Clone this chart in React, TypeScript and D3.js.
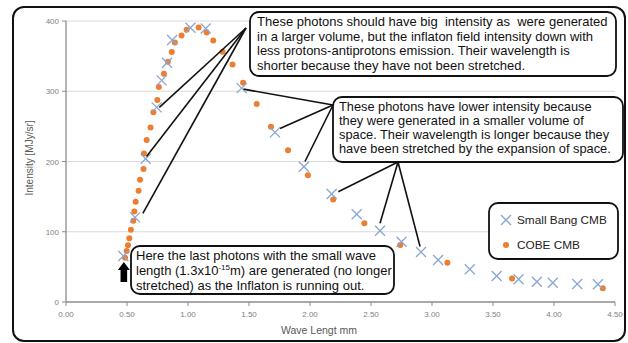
import React from 'react';
import * as d3 from 'd3';

// ---- data ----
const smallBangX = [0.47, 0.566, 0.653, 0.743, 0.784, 0.828, 0.87, 1.02, 1.145, 1.44, 1.713, 1.95, 2.178, 2.383, 2.574, 2.75, 2.91, 3.05, 3.31, 3.53, 3.71, 3.86, 3.99, 4.19, 4.36];
const smallBangY = [65.5, 120.5, 204, 277, 315.5, 340.6, 373, 390.5, 389.3, 304.5, 241.5, 192.6, 153.7, 124.8, 101.5, 85.8, 71.2, 59.8, 46.5, 37, 32.3, 28.9, 27.5, 25.6, 25.2];

const cobeX = [0.484, 0.497, 0.508, 0.519, 0.532, 0.552, 0.56, 0.571, 0.595, 0.607, 0.635, 0.639, 0.661, 0.693, 0.716, 0.749, 0.761, 0.803, 0.835, 0.867, 0.892, 0.947, 0.989, 1.087, 1.153, 1.207, 1.283, 1.365, 1.452, 1.563, 1.68, 1.82, 1.983, 2.19, 2.445, 2.74, 3.126, 3.656, 4.4];
const cobeY = [63, 72.6, 80.7, 90.6, 103, 115.7, 129, 142.8, 158.3, 174, 189.5, 211.5, 230.6, 248.4, 270, 287.5, 306.2, 325, 342, 356, 369.3, 379.5, 387.5, 390.8, 383.7, 372.3, 356.2, 338, 312, 282, 249.6, 216, 180.5, 146, 112, 81, 56, 33.6, 19.4];

const xTicks = [0, 0.5, 1, 1.5, 2, 2.5, 3, 3.5, 4, 4.5];
const yTicks = [0, 100, 200, 300, 400];

const seriesNames = ['Small Bang CMB', 'COBE CMB'];
const xTitle = 'Wave Lengt mm';
const yTitle = 'Intensity [MJy/sr]';

const topBoxLines = [
  'These photons should have big  intensity as  were generated',
  'in a larger volume, but the inflaton field intensity down with',
  'less protons-antiprotons emission. Their wavelength is',
  'shorter because they have not been stretched.',
];
const midBoxLines = [
  'These photons have lower intensity because',
  'they were generated in a smaller volume of',
  'space. Their wavelength is longer because they',
  'have been stretched by the expansion of space.',
];

// leader line targets (data units)
const topLeaderTargets = [[0.765, 277], [0.66, 207], [0.63, 126]];
const midLeftTargets = [[1.455, 303], [1.754, 247], [1.959, 200]];
const midBottomTargets = [[2.232, 157], [2.574, 112], [2.902, 79]];

// ---- layout ----
const W = 628, H = 343;
const x = d3.scaleLinear().domain([0, 4.5]).range([66, 615]);
const y = d3.scaleLinear().domain([0, 400]).range([302, 21]);

const FONT = '"Liberation Sans", Arial, sans-serif';
const BLUE = '#8aa6d2';
const ORANGE = '#ed7d31';

function Cross({ cx, cy, s = 5, color = BLUE }: { cx: number; cy: number; s?: number; color?: string }) {
  return (
    <g stroke={color} strokeWidth={1.3}>
      <line x1={cx - s} y1={cy - s} x2={cx + s} y2={cy + s} />
      <line x1={cx - s} y1={cy + s} x2={cx + s} y2={cy - s} />
    </g>
  );
}

export default function App() {
  const fmt = d3.format('.2f');
  const topAnchor = [246, 28];
  const midLeftAnchor = [333, 105];
  const midBottomAnchor = [398, 162];
  const ax = x(0.47);
  return (
    <svg width={W} height={H} style={{ position: 'absolute', left: 0, top: 0, background: '#fff' }} fontFamily={FONT}>
      <rect x={0} y={0} width={W} height={H} fill="#fff" />
      <rect x={13} y={7} width={612} height={334} rx={11} fill="#fff" stroke="#111" strokeWidth={2} />
      {/* grid */}
      {yTicks.filter(t => t > 0).map(t => (
        <line key={t} x1={x(0)} x2={x(4.5)} y1={y(t)} y2={y(t)} stroke="#dadada" strokeWidth={1} />
      ))}
      {/* axes */}
      <line x1={x(0)} x2={x(0)} y1={y(400)} y2={y(0)} stroke="#8c8c8c" strokeWidth={1.3} />
      <line x1={x(0)} x2={x(4.5)} y1={y(0)} y2={y(0)} stroke="#8c8c8c" strokeWidth={1.3} />
      {yTicks.map(t => (
        <g key={t}>
          <line x1={x(0) - 4} x2={x(0)} y1={y(t)} y2={y(t)} stroke="#8c8c8c" />
          <text x={59} y={y(t) + 3} fontSize={8} fill="#7f7f7f" textAnchor="end">{t}</text>
        </g>
      ))}
      {xTicks.map(t => (
        <g key={t}>
          <line x1={x(t)} x2={x(t)} y1={y(0)} y2={y(0) + 4} stroke="#8c8c8c" />
          <text x={x(t)} y={317} fontSize={8} fill="#7f7f7f" textAnchor="middle">{fmt(t)}</text>
        </g>
      ))}
      <text x={319} y={334} fontSize={10.5} fill="#595959" textAnchor="middle">{xTitle}</text>
      <text transform="translate(33,158) rotate(-90)" fontSize={10} fill="#595959" textAnchor="middle">{yTitle}</text>

      {/* points */}
      {cobeX.map((v, i) => (
        <circle key={'c' + i} cx={x(v)} cy={y(cobeY[i])} r={3} fill={ORANGE} />
      ))}
      {smallBangX.map((v, i) => (
        <Cross key={'s' + i} cx={x(v)} cy={y(smallBangY[i])} />
      ))}

      {/* leader lines */}
      <g stroke="#111" strokeWidth={1.6}>
        {topLeaderTargets.map((d, i) => (
          <line key={'t' + i} x1={topAnchor[0]} y1={topAnchor[1]} x2={x(d[0])} y2={y(d[1])} />
        ))}
        {midLeftTargets.map((d, i) => (
          <line key={'m' + i} x1={midLeftAnchor[0]} y1={midLeftAnchor[1]} x2={x(d[0])} y2={y(d[1])} />
        ))}
        {midBottomTargets.map((d, i) => (
          <line key={'b' + i} x1={midBottomAnchor[0]} y1={midBottomAnchor[1]} x2={x(d[0])} y2={y(d[1])} />
        ))}
      </g>

      {/* top box */}
      <rect x={250} y={12} width={366} height={64} rx={9} fill="#fff" stroke="#111" strokeWidth={1.8} />
      {topBoxLines.map((l, i) => (
        <text key={i} x={257} y={26 + i * 14.7} fontSize={13} fill="#111" style={{ whiteSpace: 'pre' }}>{l}</text>
      ))}
      {/* middle box */}
      <rect x={333} y={97} width={290} height={65} rx={9} fill="#fff" stroke="#111" strokeWidth={1.8} />
      {midBoxLines.map((l, i) => (
        <text key={i} x={339} y={111 + i * 14} fontSize={12.8} fill="#111">{l}</text>
      ))}
      {/* bottom-left box */}
      <rect x={131} y={246} width={263} height={48} rx={9} fill="#fff" stroke="#111" strokeWidth={1.8} />
      <text x={136} y={259.5} fontSize={13} fill="#111">Here the last photons with the small wave</text>
      <text x={136} y={274.5} fontSize={13} fill="#111">
        length (1.3x10<tspan fontSize={8} dy={-5}>-15</tspan><tspan dy={5}>m) are generated (no longer</tspan>
      </text>
      <text x={136} y={289.5} fontSize={13} fill="#111">stretched) as the Inflaton is running out.</text>

      {/* arrow */}
      <path
        d={`M${ax + 0.5},262 L${ax + 6.5},270 L${ax + 3.8},270 L${ax + 3.8},282 L${ax - 2.8},282 L${ax - 2.8},270 L${ax - 5.5},270 Z`}
        fill="#000"
      />

      {/* legend */}
      <rect x={489} y={203} width={129} height={56} rx={9} fill="#fff" stroke="#111" strokeWidth={1.8} />
      <Cross cx={506} cy={220} />
      <text x={517} y={224} fontSize={11.8} fill="#222">{seriesNames[0]}</text>
      <circle cx={506} cy={245} r={3} fill={ORANGE} />
      <text x={517} y={249} fontSize={11.8} fill="#222">{seriesNames[1]}</text>
    </svg>
  );
}
